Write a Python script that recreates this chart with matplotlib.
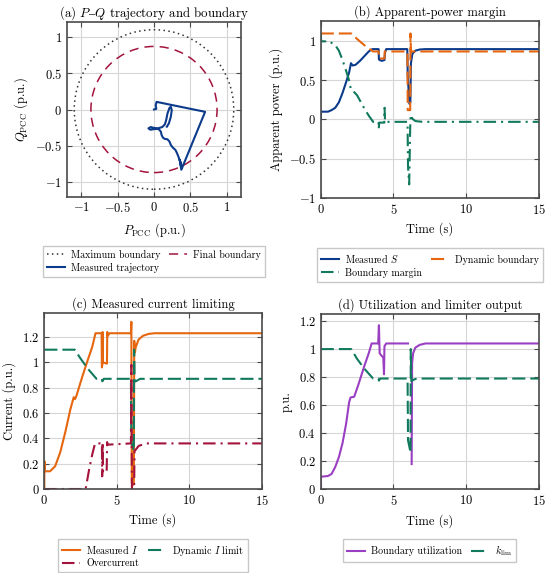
import matplotlib
matplotlib.use("Agg")
import numpy as np
from matplotlib import pyplot as plt
from matplotlib.lines import Line2D
from matplotlib.patches import Circle
from matplotlib.ticker import FuncFormatter

# ---- colours
BLUE = "#0c3b8c"
ORANGE = "#e5660f"
GREEN = "#117a5e"
RED = "#a4133c"
PURPLE = "#9a3fc2"

# ---- (a) P-Q trajectory
MAX_RADIUS = 1.1
FINAL_RADIUS = 0.87
traj_p = [0.0, 0.032, 0.023, 0.036, 0.705, 0.377, 0.36, 0.386, 0.355, 0.372, 0.341,
          0.318, 0.295, 0.259, 0.232, 0.214, 0.186, 0.150, 0.123, 0.105, 0.095,
          0.068, 0.023, -0.045, -0.077, -0.050, 0.014, 0.068, 0.114, 0.150, 0.168,
          0.186, 0.214, 0.232, 0.245, 0.232, 0.205, 0.177]
traj_q = [0.0, 0.009, 0.059, 0.105, -0.032, -0.831, -0.740, -0.799, -0.694, -0.760, -0.662,
          -0.603, -0.557, -0.525, -0.489, -0.443, -0.411, -0.406, -0.388, -0.352, -0.306,
          -0.274, -0.260, -0.242, -0.260, -0.279, -0.269, -0.256, -0.242, -0.205, -0.146,
          -0.055, 0.023, 0.037, -0.009, -0.100, -0.192, -0.237]

# ---- (b) apparent power
t_s = [0, 0.02, 0.5, 0.75, 1.0, 1.25, 1.5, 1.75, 1.95, 2.08, 2.2, 2.4, 2.7, 3.0, 3.3,
       3.55, 3.98, 4.0, 4.05, 4.2, 4.38, 4.42, 4.5, 5.95, 5.98, 6.1, 6.16, 6.2, 6.3,
       6.5, 6.8, 7.2, 15]
s_meas = [0, 0.10, 0.10, 0.12, 0.15, 0.22, 0.34, 0.48, 0.60, 0.72, 0.69, 0.70, 0.75,
          0.81, 0.87, 0.90, 0.90, 0.77, 0.76, 0.75, 0.76, 0.86, 0.90, 0.90, 0.55, 0.20,
          0.22, 0.72, 0.84, 0.88, 0.895, 0.90, 0.90]
t_bnd = [0, 2.1, 2.5, 3.0, 3.6, 3.98, 4.0, 4.38, 4.4, 5.96, 5.98, 6.15, 6.17, 6.2, 15]
s_bnd = [1.1, 1.1, 1.03, 0.95, 0.87, 0.87, 0.78, 0.78, 0.87, 0.87, 0.12, 0.12, 1.1,
         0.87, 0.87]
t_mrg = [0, 0.03, 0.5, 0.75, 1.0, 1.25, 1.5, 1.75, 1.95, 2.08, 2.3, 2.5, 3.0, 3.3,
         3.6, 3.97, 3.99, 4.02, 4.37, 4.39, 4.42, 5.95, 5.97, 6.0, 6.08, 6.15, 6.18,
         6.3, 6.5, 7.0, 15]
s_mrg = [1.1, 1.0, 1.0, 0.98, 0.95, 0.88, 0.76, 0.62, 0.50, 0.38, 0.35, 0.31, 0.14,
         0.05, -0.03, -0.03, -0.12, -0.04, -0.04, 0.15, -0.03, -0.03, -0.10, -0.60,
         -0.83, -0.10, 0.06, 0.01, -0.02, -0.03, -0.03]

# ---- (c) current
t_i = [0, 0.01, 0.05, 0.4, 0.75, 1.1, 1.45, 1.8, 2.03, 2.12, 2.2, 2.6, 3.0, 3.3, 3.53,
       3.95, 3.97, 4.0, 4.02, 4.04, 4.06, 4.3, 4.32, 4.34, 4.37, 4.5, 5.97, 6.0, 6.03,
       6.1, 6.17, 6.2, 6.25, 6.3, 6.5, 6.8, 7.2, 7.6, 15]
i_meas = [0, 0.22, 0.14, 0.14, 0.18, 0.29, 0.45, 0.63, 0.725, 0.71, 0.73, 0.88, 1.02,
          1.12, 1.23, 1.23, 0.96, 0.98, 1.24, 1.0, 1.0, 0.99, 0.99, 1.24, 1.21, 1.23,
          1.23, 1.32, 0.05, 0.03, 0.05, 1.17, 1.08, 1.12, 1.18, 1.21, 1.225, 1.23, 1.23]
t_lim = [0, 2.1, 2.5, 3.0, 3.6, 3.97, 4.0, 4.1, 5.97, 6.0, 6.1, 6.17, 6.19, 6.22, 6.3,
         6.6, 15]
i_lim = [1.1, 1.1, 1.03, 0.95, 0.87, 0.87, 0.85, 0.87, 0.87, 0.37, 0.33, 0.30, 1.1,
         0.85, 0.85, 0.87, 0.87]
t_oc = [0, 2.85, 3.1, 3.3, 3.5, 3.97, 3.99, 4.02, 4.05, 4.3, 4.33, 4.36, 5.97, 6.0,
        6.04, 6.19, 6.22, 6.3, 6.5, 7.0, 15]
i_oc = [0, 0, 0.16, 0.27, 0.36, 0.36, 0.10, 0.37, 0.14, 0.13, 0.37, 0.35, 0.36, 0.98,
        0.0, 0.0, 0.30, 0.31, 0.34, 0.36, 0.36]

# ---- (d) utilization and limiter
t_u = [0, 0.02, 0.5, 0.75, 1.0, 1.25, 1.5, 1.75, 1.95, 2.05, 2.3, 2.6, 3.0, 3.3, 3.5,
       3.95, 4.0, 4.05, 4.2, 4.3, 4.35, 4.38, 4.5, 6.0, 6.01, 6.24, 6.25, 6.28, 6.35,
       6.5, 6.8, 7.2, 15]
util = [0, 0.09, 0.095, 0.11, 0.16, 0.23, 0.33, 0.47, 0.62, 0.655, 0.66, 0.75, 0.88,
        0.97, 1.04, 1.04, 1.17, 0.97, 0.95, 0.94, 0.82, 1.02, 1.04, 1.04, np.nan,
        np.nan, 0.18, 0.90, 0.97, 1.01, 1.03, 1.04, 1.04]
t_k = [0, 2.1, 2.5, 3.0, 3.6, 3.97, 4.0, 4.1, 5.97, 6.0, 6.1, 6.17, 6.19, 6.23, 6.35,
       6.6, 15]
k_lim = [1.0, 1.0, 0.93, 0.86, 0.79, 0.79, 0.775, 0.79, 0.79, 0.35, 0.30, 0.26, 1.0,
         0.77, 0.78, 0.79, 0.79]

plt.rcParams["font.family"] = ["cmr10", "DejaVu Serif"]
plt.rcParams["mathtext.fontset"] = "cm"
plt.rcParams["axes.unicode_minus"] = True
plt.rcParams["font.size"] = 9

DASH = (0, (6.3, 2.4))
DASHDOT = (0, (6.0, 2.4, 1.0, 2.4))
DOT = (0, (1, 2.2))
CIRC_DASH = (0, (6, 4))


def fmt(v, _pos):
    return f"${v:g}$"


def style(ax):
    ax.grid(True, color="#d6d6d6", lw=0.8)
    ax.set_axisbelow(True)
    for sp in ax.spines.values():
        sp.set_color("#4a4a4a")
        sp.set_linewidth(1.2)
    ax.tick_params(direction="in", top=True, right=True, length=3.5, width=0.8,
                   color="#4a4a4a", labelsize=9)
    ax.xaxis.set_major_formatter(FuncFormatter(fmt))
    ax.yaxis.set_major_formatter(FuncFormatter(fmt))


def add_legend(ax, handles, ncol=2):
    ax.legend(handles=handles, loc="upper center", bbox_to_anchor=(0.5, -0.255),
              ncol=ncol, fontsize=7.2, fancybox=False, edgecolor="#c8c8c8",
              framealpha=1.0, handlelength=1.8, handletextpad=0.6,
              columnspacing=0.9, labelspacing=0.3, borderpad=0.4)


fig = plt.figure(figsize=(5.5, 5.73), dpi=100)
ax_a = fig.add_axes([0.1218, 0.6562, 0.3164, 0.3054])
ax_b = fig.add_axes([0.5831, 0.6550, 0.3969, 0.3084])
ax_c = fig.add_axes([0.0805, 0.1466, 0.3958, 0.3072])
ax_d = fig.add_axes([0.5831, 0.1460, 0.3969, 0.3060])

# (a)
style(ax_a)
ax_a.add_patch(Circle((0, 0), MAX_RADIUS, fill=False, ls=DOT, lw=1.1,
                      color="#333333"))
ax_a.add_patch(Circle((0, 0), FINAL_RADIUS, fill=False, ls=CIRC_DASH, lw=1.1,
                      color=RED))
ax_a.plot(traj_p, traj_q, color=BLUE, lw=1.5)
ax_a.set_xlim(-1.2, 1.2)
ax_a.set_ylim(-1.2, 1.2)
ax_a.set_aspect("equal")
ax_a.set_xticks([-1, -0.5, 0, 0.5, 1])
ax_a.set_yticks([-1, -0.5, 0, 0.5, 1])
ax_a.set_xlabel(r"$P_\mathrm{PCC}$ (p.u.)")
ax_a.set_ylabel(r"$Q_\mathrm{PCC}$ (p.u.)")
ax_a.set_title(r"(a) $P\mathrm{–}Q$ trajectory and boundary", fontsize=9.3, pad=4)
add_legend(ax_a, [
    Line2D([], [], color="#333333", ls=DOT, lw=1.1, label="Maximum boundary"),
    Line2D([], [], color=BLUE, lw=1.5, label="Measured trajectory"),
    Line2D([], [], color=RED, ls=CIRC_DASH, lw=1.1, label="Final boundary"),
])

# (b)
style(ax_b)
h1, = ax_b.plot(t_s, s_meas, color=BLUE, lw=1.5, label="Measured $S$")
h2, = ax_b.plot(t_bnd, s_bnd, color=ORANGE, lw=1.5, ls=DASH,
                label="Dynamic boundary")
h3, = ax_b.plot(t_mrg, s_mrg, color=GREEN, lw=1.5, ls=DASHDOT,
                label="Boundary margin")
ax_b.set_xlim(0, 15)
ax_b.set_ylim(-1, 1.26)
ax_b.set_xticks([0, 5, 10, 15])
ax_b.set_yticks([-1, -0.5, 0, 0.5, 1])
ax_b.set_xlabel("Time (s)")
ax_b.set_ylabel("Apparent power (p.u.)")
ax_b.set_title("(b) Apparent-power margin", fontsize=9, pad=4)
add_legend(ax_b, [h1, h3, h2])

# (c)
style(ax_c)
h1, = ax_c.plot(t_i, i_meas, color=ORANGE, lw=1.5, label="Measured $I$")
h2, = ax_c.plot(t_lim, i_lim, color=GREEN, lw=1.5, ls=DASH,
                label="Dynamic $I$ limit")
h3, = ax_c.plot(t_oc, i_oc, color=RED, lw=1.5, ls=DASHDOT,
                label="Overcurrent")
ax_c.set_xlim(0, 15)
ax_c.set_ylim(0, 1.39)
ax_c.set_xticks([0, 5, 10, 15])
ax_c.set_yticks([0, 0.2, 0.4, 0.6, 0.8, 1, 1.2])
ax_c.set_xlabel("Time (s)")
ax_c.set_ylabel("Current (p.u.)")
ax_c.set_title("(c) Measured current limiting", fontsize=9, pad=4)
add_legend(ax_c, [h1, h3, h2])

# (d)
style(ax_d)
h1, = ax_d.plot(t_u, util, color=PURPLE, lw=1.5, label="Boundary utilization")
h2, = ax_d.plot(t_k, k_lim, color=GREEN, lw=1.5, ls=DASH,
                label=r"$k_\mathrm{lim}$")
ax_d.set_xlim(0, 15)
ax_d.set_ylim(0, 1.25)
ax_d.set_xticks([0, 5, 10, 15])
ax_d.set_yticks([0, 0.2, 0.4, 0.6, 0.8, 1, 1.2])
ax_d.set_xlabel("Time (s)")
ax_d.set_ylabel("p.u.")
ax_d.set_title("(d) Utilization and limiter output", fontsize=9, pad=4)
add_legend(ax_d, [h1, h2])

fig.savefig("out.png", dpi=100)
